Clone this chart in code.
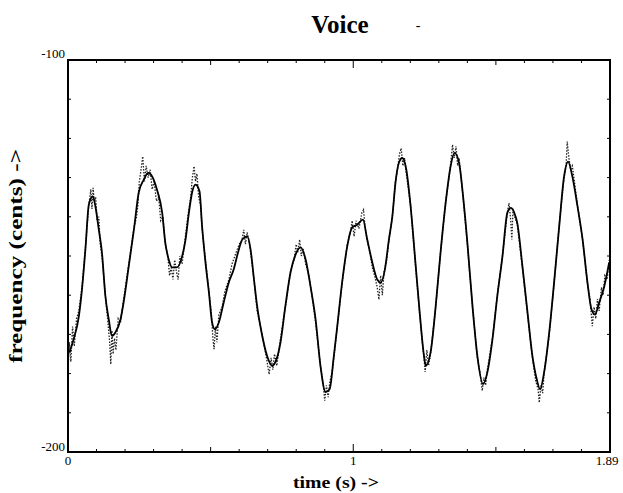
<!DOCTYPE html>
<html>
<head>
<meta charset="utf-8">
<script src="https://cdn.jsdelivr.net/npm/d3@7"></script>
<style>
  body { margin: 0; background: #fff; }
  text { font-family: 'Liberation Serif', 'Times New Roman', serif; }
</style>
</head>
<body>
<div id="chart"></div>
<script>
// smoothed pitch track (solid line)
const smoothTime = [
  0.005, 0.020, 0.038, 0.049, 0.061, 0.073, 0.087, 0.096, 0.108, 0.119,
  0.131, 0.143, 0.154, 0.166, 0.184, 0.195, 0.213, 0.231, 0.248, 0.266,
  0.281, 0.295, 0.312, 0.330, 0.341, 0.353, 0.365, 0.382, 0.400, 0.412,
  0.424, 0.435, 0.447, 0.461, 0.470, 0.482, 0.494, 0.505, 0.515, 0.529,
  0.546, 0.564, 0.581, 0.596, 0.611, 0.628, 0.640, 0.652, 0.663, 0.681,
  0.698, 0.716, 0.727, 0.745, 0.762, 0.780, 0.798, 0.815, 0.833, 0.850,
  0.868, 0.885, 0.903, 0.917, 0.932, 0.944, 0.961, 0.979, 0.996, 1.014,
  1.034, 1.049, 1.067, 1.084, 1.096, 1.111, 1.125, 1.137, 1.148, 1.160,
  1.172, 1.186, 1.201, 1.219, 1.233, 1.248, 1.254, 1.271, 1.289, 1.306,
  1.324, 1.341, 1.355, 1.371, 1.385, 1.400, 1.418, 1.435, 1.455, 1.470,
  1.488, 1.505, 1.523, 1.540, 1.552, 1.569, 1.575, 1.593, 1.611, 1.628,
  1.643, 1.655, 1.669, 1.687, 1.704, 1.722, 1.739, 1.753, 1.768, 1.786,
  1.804, 1.821, 1.835, 1.847, 1.862, 1.880, 1.897
]
const smoothCents = [
  -174.6, -171.2, -165.4, -158.5, -148.3, -136.9, -134.8, -137.3, -143.3, -149.1,
  -160.2, -166.2, -170.4, -169.5, -166.2, -161.8, -152.6, -143.3, -133.8, -130.5,
  -128.8, -129.7, -133.1, -138.9, -146.6, -150.9, -152.9, -152.9, -150.1, -145.8,
  -138.9, -133.8, -131.8, -133.5, -142.4, -151.7, -159.3, -166.9, -168.7, -166.9,
  -161.8, -156.7, -153.4, -149.1, -145.8, -145.0, -148.3, -156.0, -162.8, -170.4,
  -175.5, -178.0, -177.1, -172.0, -162.8, -154.2, -149.6, -147.8, -150.9, -157.7,
  -166.2, -178.0, -184.7, -184.0, -175.5, -167.9, -156.7, -147.5, -142.7, -142.0,
  -140.7, -145.8, -151.7, -156.0, -156.8, -153.4, -145.8, -139.9, -131.3, -126.2,
  -125.0, -128.0, -137.3, -152.6, -164.5, -175.5, -178.0, -174.6, -162.8, -149.1,
  -136.4, -127.2, -123.7, -126.3, -134.8, -146.6, -162.8, -175.5, -182.7, -179.7,
  -171.2, -160.2, -150.1, -139.0, -137.7, -139.9, -141.6, -152.6, -164.5, -175.5,
  -181.4, -184.0, -179.7, -169.5, -156.8, -142.4, -129.7, -125.9, -129.7, -137.3,
  -145.8, -156.8, -163.6, -164.9, -161.9, -157.7, -151.7
]

// raw pitch estimates (dotted line)
const rawTime = [
  0.000, 0.005, 0.010, 0.016, 0.022, 0.030, 0.038, 0.049, 0.061, 0.073,
  0.080, 0.084, 0.088, 0.092, 0.097, 0.102, 0.108, 0.113, 0.119, 0.131,
  0.140, 0.146, 0.150, 0.154, 0.158, 0.163, 0.168, 0.176, 0.184, 0.195,
  0.213, 0.231, 0.240, 0.245, 0.250, 0.256, 0.262, 0.268, 0.274, 0.281,
  0.288, 0.295, 0.302, 0.310, 0.318, 0.325, 0.333, 0.341, 0.350, 0.356,
  0.362, 0.368, 0.374, 0.380, 0.386, 0.392, 0.400, 0.410, 0.420, 0.430,
  0.436, 0.442, 0.447, 0.452, 0.458, 0.465, 0.470, 0.482, 0.494, 0.503,
  0.508, 0.512, 0.517, 0.522, 0.529, 0.540, 0.550, 0.564, 0.575, 0.590,
  0.600, 0.610, 0.616, 0.622, 0.628, 0.634, 0.640, 0.652, 0.663, 0.675,
  0.688, 0.698, 0.705, 0.712, 0.718, 0.724, 0.732, 0.745, 0.762, 0.780,
  0.792, 0.800, 0.806, 0.812, 0.818, 0.824, 0.833, 0.845, 0.855, 0.868,
  0.885, 0.895, 0.900, 0.906, 0.912, 0.918, 0.925, 0.932, 0.944, 0.961,
  0.979, 0.990, 0.996, 1.003, 1.010, 1.020, 1.030, 1.036, 1.042, 1.049,
  1.058, 1.067, 1.075, 1.084, 1.090, 1.096, 1.102, 1.108, 1.117, 1.125,
  1.137, 1.148, 1.155, 1.162, 1.168, 1.174, 1.180, 1.186, 1.201, 1.219,
  1.233, 1.242, 1.248, 1.252, 1.258, 1.264, 1.271, 1.289, 1.306, 1.324,
  1.330, 1.336, 1.342, 1.348, 1.354, 1.360, 1.366, 1.371, 1.385, 1.400,
  1.418, 1.435, 1.445, 1.452, 1.458, 1.464, 1.470, 1.488, 1.505, 1.523,
  1.540, 1.546, 1.552, 1.556, 1.560, 1.566, 1.575, 1.593, 1.611, 1.628,
  1.640, 1.648, 1.652, 1.658, 1.664, 1.669, 1.687, 1.704, 1.722, 1.739,
  1.746, 1.750, 1.756, 1.762, 1.768, 1.786, 1.804, 1.821, 1.830, 1.838,
  1.844, 1.850, 1.856, 1.862, 1.870, 1.876, 1.882, 1.890, 1.897
]
const rawCents = [
  -178.9, -172, -177, -168, -173, -166, -164, -158, -148, -137,
  -133, -138, -132.6, -136, -135, -141, -140, -147, -150, -160,
  -167, -172, -177.6, -169, -175, -171, -174, -166, -167, -161,
  -152, -143, -140, -137, -131, -128, -124.6, -131, -127, -130,
  -128, -133, -131, -136, -135, -141, -140, -147, -150, -155,
  -153, -156, -151, -154, -156, -150, -152, -146, -140, -135,
  -130, -127.1, -131, -129, -135, -137, -143, -151, -159, -165,
  -171, -173.8, -168, -172, -165, -163, -159, -156, -152, -149,
  -147, -146, -143.3, -147, -144, -146, -149, -156, -164, -168,
  -173, -177, -180.2, -176, -179, -175, -178, -171, -163, -154,
  -151, -147, -149, -145.8, -150, -148, -152, -155, -160, -167,
  -178, -183, -186.9, -183, -186, -182, -180, -176, -168, -157,
  -147, -144, -141, -145, -141, -143, -139, -138.2, -143, -146,
  -149, -153, -155, -158, -161.1, -155, -160, -154, -151, -146,
  -140, -131, -128, -124, -122.5, -127, -125, -129, -137, -153,
  -165, -172, -176, -179.6, -174, -178, -175, -163, -149, -136,
  -133, -130, -126, -121.6, -125, -122, -127, -125, -135, -147,
  -163, -176, -180, -184.4, -181, -183, -179, -171, -160, -150,
  -139, -136.5, -141, -145.8, -138, -140, -142, -153, -165, -176,
  -182, -184, -187.4, -183, -185, -180, -170, -157, -142, -130,
  -127, -120.8, -125, -128, -127, -137, -146, -157, -161, -167.9,
  -163, -166, -161, -164, -158, -160, -155, -156, -151
]

const xTickLabels = [0, 1, 1.89]
const yTickLabels = [-100, -200]

const margin = { top: 60, left: 68, right: 13, bottom: 41 }

const width = 623 - margin.left - margin.right
const height = 493 - margin.top - margin.bottom

const svg = d3
  .select('#chart')
  .append('svg')
  .attr('width', width + margin.left + margin.right)
  .attr('height', height + margin.top + margin.bottom)

const holder = svg
  .append('g')
  .attr('transform', `translate(${margin.left},${margin.top})`)

const xScale = d3
  .scaleLinear()
  .domain([0, 1.9])
  .range([0, width])

const yScale = d3
  .scaleLinear()
  .domain([-200, -100])
  .range([height, 0])

const smoothData = smoothTime.map((t, i) => ({ t: t, c: smoothCents[i] }))
const rawData = rawTime.map((t, i) => ({ t: t, c: rawCents[i] }))

const line = d3
  .line()
  .x(d => xScale(d.t))
  .y(d => yScale(d.c))

// raw estimates, dotted
holder
  .append('path')
  .datum(rawData)
  .attr('d', line)
  .attr('fill', 'none')
  .attr('stroke', '#222')
  .attr('stroke-width', 1.3)
  .attr('stroke-dasharray', '1.5,1.5')

// smoothed track
holder
  .append('path')
  .datum(smoothData)
  .attr('d', line.curve(d3.curveMonotoneX))
  .attr('fill', 'none')
  .attr('stroke', '#000')
  .attr('stroke-width', 1.8)

// frame
holder
  .append('rect')
  .attr('width', width)
  .attr('height', height)
  .attr('fill', 'none')
  .attr('stroke', '#000')
  .attr('stroke-width', 2)

// x ticks, every 0.1 s, pointing in
const xMinor = d3.range(1, 19).map(d => d / 10)
const xTickLen = d => (d === 1 ? 8 : d === 0.5 || d === 1.5 ? 5 : 3)

holder
  .selectAll('.x-tick-bottom')
  .data(xMinor)
  .enter()
  .append('line')
  .attr('x1', d => xScale(d))
  .attr('x2', d => xScale(d))
  .attr('y1', height)
  .attr('y2', d => height - xTickLen(d))
  .attr('stroke', '#000')
  .attr('stroke-width', 1)

holder
  .selectAll('.x-tick-top')
  .data(xMinor)
  .enter()
  .append('line')
  .attr('x1', d => xScale(d))
  .attr('x2', d => xScale(d))
  .attr('y1', 0)
  .attr('y2', d => xTickLen(d))
  .attr('stroke', '#000')
  .attr('stroke-width', 1)

// y ticks, every 10 cents
const yMinor = d3.range(-190, -100, 10)

holder
  .selectAll('.y-tick-left')
  .data(yMinor)
  .enter()
  .append('line')
  .attr('x1', 0)
  .attr('x2', 3)
  .attr('y1', d => yScale(d))
  .attr('y2', d => yScale(d))
  .attr('stroke', '#000')

holder
  .selectAll('.y-tick-right')
  .data(yMinor)
  .enter()
  .append('line')
  .attr('x1', width)
  .attr('x2', width - 3)
  .attr('y1', d => yScale(d))
  .attr('y2', d => yScale(d))
  .attr('stroke', '#000')

// tick labels
holder
  .selectAll('.x-label')
  .data(xTickLabels)
  .enter()
  .append('text')
  .attr('x', d => xScale(d))
  .attr('y', height + 13)
  .attr('text-anchor', 'middle')
  .attr('font-size', 13)
  .text(d => d)

holder
  .selectAll('.y-label')
  .data(yTickLabels)
  .enter()
  .append('text')
  .attr('x', -3)
  .attr('y', d => yScale(d))
  .attr('dy', d => (d === -100 ? -2 : -1))
  .attr('text-anchor', 'end')
  .attr('font-size', 13)
  .text(d => d)

// titles
svg
  .append('text')
  .attr('x', 340)
  .attr('y', 33)
  .attr('text-anchor', 'middle')
  .attr('font-size', 25)
  .attr('font-weight', 'bold')
  .text('Voice')

svg
  .append('text')
  .attr('x', 418)
  .attr('y', 30)
  .attr('text-anchor', 'middle')
  .attr('font-size', 14)
  .text('-')

svg
  .append('text')
  .attr('x', 336)
  .attr('y', 488)
  .attr('text-anchor', 'middle')
  .attr('font-size', 17)
  .attr('font-weight', 'bold')
  .attr('textLength', 86)
  .attr('lengthAdjust', 'spacingAndGlyphs')
  .text('time (s) ->')

svg
  .append('text')
  .attr('transform', 'translate(22,256) rotate(-90)')
  .attr('text-anchor', 'middle')
  .attr('font-size', 18)
  .attr('font-weight', 'bold')
  .attr('textLength', 214)
  .attr('lengthAdjust', 'spacingAndGlyphs')
  .text('frequency (cents) ->')
</script>
</body>
</html>
